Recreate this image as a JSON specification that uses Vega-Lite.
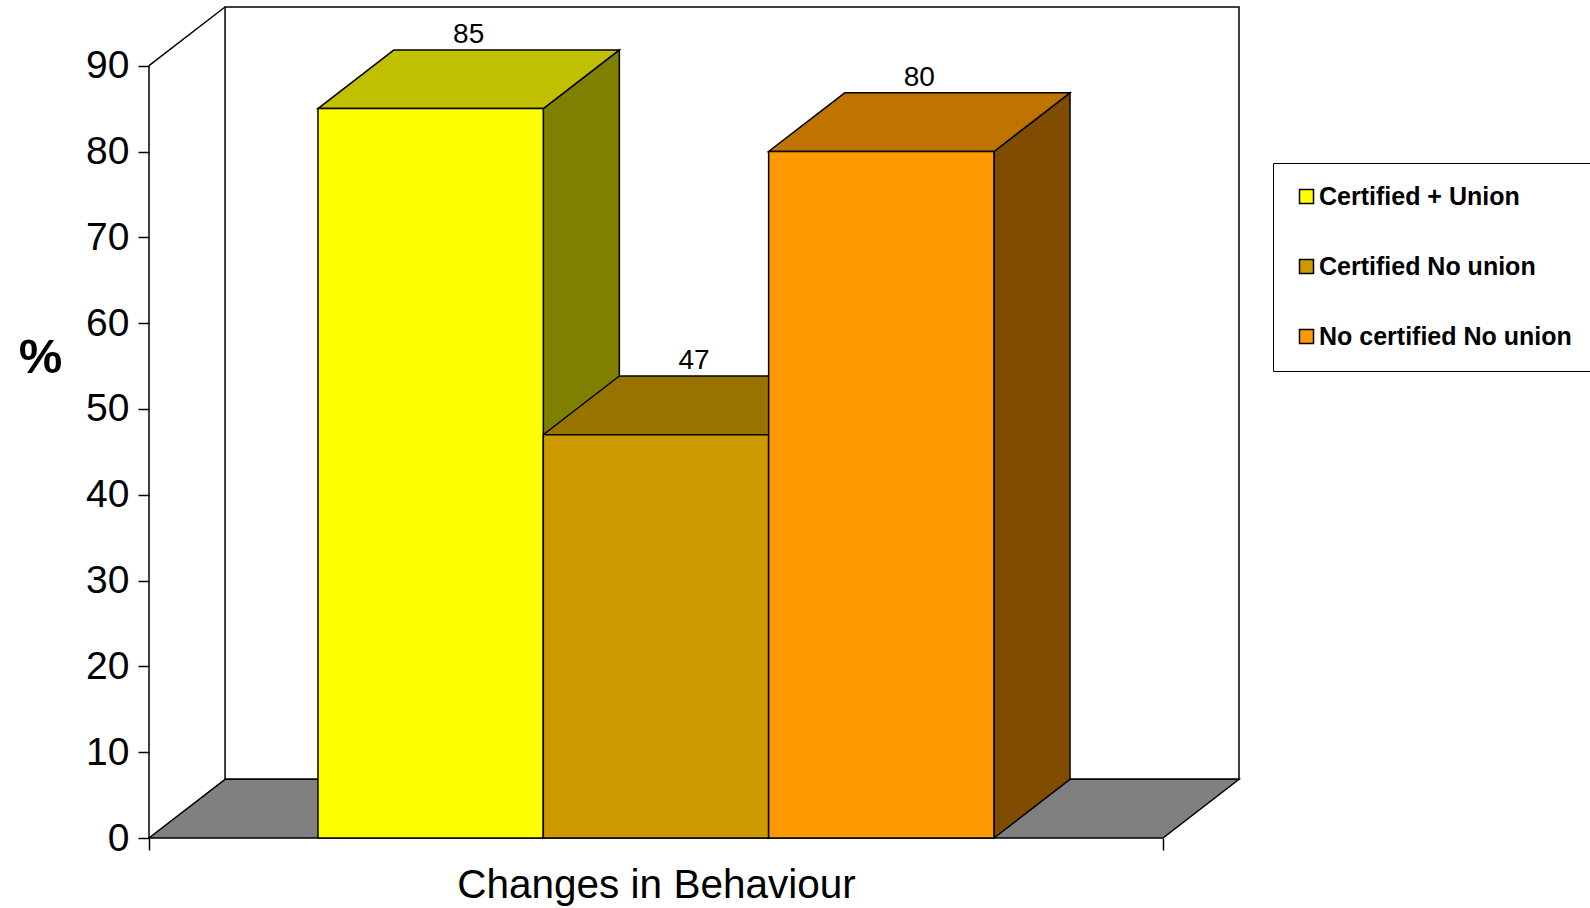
{
  "$schema": "https://vega.github.io/schema/vega-lite/v6.json",
  "width": 1090,
  "height": 831,
  "autosize": {"type": "none"},
  "padding": {"left": 149, "top": 7, "right": 351, "bottom": 70},
  "background": "white",
  "config": {"view": {"stroke": null}, "font": "Liberation Sans"},
  "data": {
    "values": [
      {"series": "Certified + Union", "value": 85},
      {"series": "Certified No union", "value": 47},
      {"series": "No certified No union", "value": 80}
    ]
  },
  "encoding": {
    "x": {
      "type": "quantitative",
      "scale": {"domain": [0, 107.5], "nice": false, "zero": false},
      "axis": {
        "values": [0, 100],
        "labels": false,
        "domain": false,
        "grid": false,
        "ticks": true,
        "tickSize": 12,
        "tickColor": "black",
        "tickWidth": 1.5,
        "title": "Changes in Behaviour",
        "titleFontSize": 40.5,
        "titleFontWeight": "normal",
        "titleFont": "Liberation Sans",
        "titleColor": "black",
        "titleX": 507,
        "titleY": 59,
        "titleAlign": "center",
        "titleBaseline": "alphabetic"
      }
    },
    "y": {
      "type": "quantitative",
      "scale": {"domain": [0, 96.84], "nice": false, "zero": true},
      "axis": {
        "values": [0, 10, 20, 30, 40, 50, 60, 70, 80, 90],
        "domain": false,
        "grid": false,
        "tickSize": 11,
        "tickColor": "black",
        "tickWidth": 1.5,
        "labelFontSize": 39,
        "labelFont": "Liberation Sans",
        "labelColor": "black",
        "labelPadding": 9,
        "labelFlush": false,
        "labelOverlap": false,
        "title": "%",
        "titleAngle": 0,
        "titleFontSize": 49,
        "titleFontWeight": "bold",
        "titleFont": "Liberation Sans",
        "titleColor": "black",
        "titleX": -109,
        "titleY": 350,
        "titleAlign": "center",
        "titleBaseline": "middle"
      }
    }
  },
  "layer": [
    {
      "data": {"values": [{}]},
      "mark": {"type": "rect", "fill": "white", "stroke": "black", "strokeWidth": 1.5},
      "encoding": {
        "x": {"datum": 7.5},
        "x2": {"datum": 107.5},
        "y": {"datum": 6.84},
        "y2": {"datum": 96.84}
      }
    },
    {
      "transform": [
        {"aggregate": [{"op": "count", "as": "n"}]},
        {"calculate": "0", "as": "front"},
        {"calculate": "1", "as": "back"},
        {"fold": ["front", "back"], "as": ["k", "t"]},
        {"calculate": "datum.t * 7.5", "as": "fx"},
        {"calculate": "100 + datum.t * 7.5", "as": "fx2"},
        {"calculate": "datum.t * 6.84", "as": "fy"}
      ],
      "mark": {"type": "area", "orient": "horizontal", "fill": "#808080", "stroke": "black", "strokeWidth": 1.5},
      "encoding": {
        "y": {"field": "fy"},
        "x": {"field": "fx", "stack": null},
        "x2": {"field": "fx2"}
      }
    },
    {
      "transform": [
        {"window": [{"op": "row_number", "as": "i"}]},
        {"calculate": "100/6 + (datum.i - 1) * 200/9", "as": "x0"},
        {"calculate": "datum.x0 + 200/9", "as": "x1"},
        {"calculate": "0", "as": "front"},
        {"calculate": "1", "as": "back"},
        {"fold": ["front", "back"], "as": ["k", "t"]},
        {"calculate": "datum.x1 + datum.t * 7.5", "as": "sx"},
        {"calculate": "datum.t * 6.84", "as": "sy"},
        {"calculate": "datum.value + datum.t * 6.84", "as": "sy2"}
      ],
      "mark": {"type": "area", "orient": "vertical", "stroke": "black", "strokeWidth": 1.5},
      "encoding": {
        "x": {"field": "sx"},
        "y": {"field": "sy", "stack": null},
        "y2": {"field": "sy2"},
        "fill": {
          "field": "series",
          "type": "nominal",
          "scale": {"domain": ["Certified + Union", "Certified No union", "No certified No union"], "range": ["#808000", "#664D00", "#804D00"]},
          "legend": null
        }
      }
    },
    {
      "transform": [
        {"window": [{"op": "row_number", "as": "i"}]},
        {"calculate": "100/6 + (datum.i - 1) * 200/9", "as": "x0"},
        {"calculate": "datum.x0 + 200/9", "as": "x1"},
        {"calculate": "0", "as": "front"},
        {"calculate": "1", "as": "back"},
        {"fold": ["front", "back"], "as": ["k", "t"]},
        {"calculate": "datum.x0 + datum.t * 7.5", "as": "tx"},
        {"calculate": "datum.x1 + datum.t * 7.5", "as": "tx2"},
        {"calculate": "datum.value + datum.t * 6.84", "as": "ty"}
      ],
      "mark": {"type": "area", "orient": "horizontal", "stroke": "black", "strokeWidth": 1.5},
      "encoding": {
        "y": {"field": "ty"},
        "x": {"field": "tx", "stack": null},
        "x2": {"field": "tx2"},
        "fill": {
          "field": "series",
          "type": "nominal",
          "scale": {"domain": ["Certified + Union", "Certified No union", "No certified No union"], "range": ["#C0C000", "#997300", "#BF7300"]},
          "legend": null
        }
      }
    },
    {
      "transform": [
        {"window": [{"op": "row_number", "as": "i"}]},
        {"calculate": "100/6 + (datum.i - 1) * 200/9", "as": "x0"},
        {"calculate": "datum.x0 + 200/9", "as": "x1"}
      ],
      "mark": {"type": "rect", "stroke": "black", "strokeWidth": 1.5},
      "encoding": {
        "x": {"field": "x0"},
        "x2": {"field": "x1"},
        "y": {"field": "value"},
        "y2": {"datum": 0},
        "fill": {
          "field": "series",
          "type": "nominal",
          "scale": {"domain": ["Certified + Union", "Certified No union", "No certified No union"], "range": ["#FFFF00", "#CC9900", "#FF9900"]},
          "legend": {
            "title": null,
            "orient": "none",
            "legendX": 1124,
            "legendY": 156,
            "strokeColor": "black",
            "fillColor": "white",
            "padding": 21,
            "symbolType": "square",
            "symbolSize": 196,
            "symbolStrokeColor": "black",
            "symbolStrokeWidth": 1.5,
            "labelFontSize": 25,
            "labelFontWeight": "bold",
            "labelFont": "Liberation Sans",
            "labelColor": "black",
            "labelOffset": 0,
            "labelLimit": 0,
            "rowPadding": 44
          }
        }
      }
    },
    {
      "transform": [
        {"window": [{"op": "row_number", "as": "i"}]},
        {"calculate": "100/6 + (datum.i - 1) * 200/9 + 100/9 + 3.75", "as": "lx"},
        {"calculate": "datum.value + 6.84", "as": "ly"}
      ],
      "mark": {"type": "text", "fontSize": 28, "font": "Liberation Sans", "color": "black", "baseline": "alphabetic", "dy": -7},
      "encoding": {
        "x": {"field": "lx"},
        "y": {"field": "ly"},
        "text": {"field": "value", "type": "quantitative"}
      }
    },
    {
      "data": {"values": [{}]},
      "mark": {"type": "rule", "color": "black", "strokeWidth": 1.5},
      "encoding": {
        "x": {"datum": 0},
        "y": {"datum": 0},
        "y2": {"datum": 90}
      }
    },
    {
      "data": {"values": [{}]},
      "mark": {"type": "rule", "color": "black", "strokeWidth": 1.5},
      "encoding": {
        "x": {"datum": 0},
        "x2": {"datum": 7.5},
        "y": {"datum": 90},
        "y2": {"datum": 96.84}
      }
    }
  ],
  "resolve": {"scale": {"fill": "independent"}}
}
